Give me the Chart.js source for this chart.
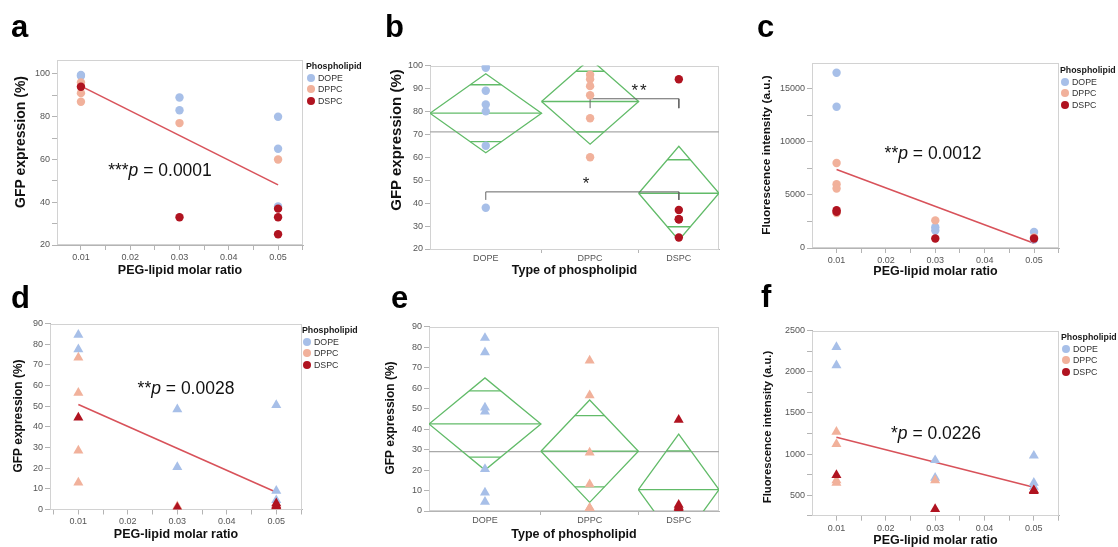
<!DOCTYPE html>
<html>
<head>
<meta charset="utf-8">
<script src="https://cdn.jsdelivr.net/npm/chart.js@4.4.0/dist/chart.umd.min.js"></script>
<style>
html, body { margin: 0; padding: 0; background: #fff; width: 1118px; height: 547px; overflow: hidden; position: relative; font-family: 'Liberation Sans', Arial, sans-serif; }
canvas { position: absolute; }
.lbl { position: absolute; font-weight: bold; font-size: 31px; line-height: 31px; color: #000; }
.pv { position: absolute; font-size: 17.5px; color: #111; transform: translate(-50%, -50%); white-space: nowrap; }
.star { position: absolute; font-size: 17px; color: #222; transform: translate(-50%, -50%); letter-spacing: 2px; }
.yt { position: absolute; font-weight: bold; color: #111; white-space: nowrap; transform: translate(-50%, -50%) rotate(-90deg); }
.leg { position: absolute; font-family: 'Liberation Sans Narrow', 'Liberation Sans', sans-serif; font-size: 8.8px; color: #333; line-height: 11.6px; }
.leg .t { font-weight: bold; color: #1a1a1a; margin-left: -1px; }
.leg .dot { display: inline-block; width: 8px; height: 8px; border-radius: 50%; margin-right: 3px; vertical-align: -1px; }
</style>
</head>
<body>
<canvas id="pa"></canvas><canvas id="pb"></canvas><canvas id="pc"></canvas>
<canvas id="pd"></canvas><canvas id="pe"></canvas><canvas id="pf"></canvas>

<div class="lbl" style="left:11px;top:11px">a</div>
<div class="lbl" style="left:385px;top:11px">b</div>
<div class="lbl" style="left:757px;top:11px">c</div>
<div class="lbl" style="left:11px;top:282px">d</div>
<div class="lbl" style="left:391px;top:282px">e</div>
<div class="lbl" style="left:761px;top:281px">f</div>

<div class="pv" style="left:160px;top:170px">***<i>p</i> = 0.0001</div>
<div class="pv" style="left:933px;top:153px">**<i>p</i> = 0.0012</div>
<div class="pv" style="left:186px;top:388px">**<i>p</i> = 0.0028</div>
<div class="pv" style="left:936px;top:433px">*<i>p</i> = 0.0226</div>
<div class="star" style="left:640px;top:91px">**</div>
<div class="star" style="left:587px;top:184px">*</div>

<div id="lega" class="leg" style="left:307px;top:61px"></div>
<div id="legc" class="leg" style="left:1061px;top:65px"></div>
<div id="legd" class="leg" style="left:303px;top:325px"></div>
<div id="legf" class="leg" style="left:1062px;top:332px"></div>

<script>
// ---- data ----
const lipids = ['DOPE', 'DPPC', 'DSPC'];
const lipidColors = ['#a7bfe8', '#f1b19b', '#b01320'];

const ratioTicks = [0.005, 0.01, 0.015, 0.02, 0.025, 0.03, 0.035, 0.04, 0.045, 0.05, 0.055];
const ratioLabels = ['', '0.01', '', '0.02', '', '0.03', '', '0.04', '', '0.05', ''];

// GFP expression (%), circles (panels a, b)
const gfpCircDOPE = [[0.01, 99.5], [0.01, 99], [0.03, 89], [0.03, 83], [0.05, 80], [0.05, 65], [0.05, 38]];
const gfpCircDPPC = [[0.01, 96], [0.01, 94], [0.01, 91], [0.01, 87], [0.03, 77], [0.05, 60]];
const gfpCircDSPC = [[0.01, 94], [0.03, 33], [0.05, 37], [0.05, 33], [0.05, 25]];
const gfpCircFit = [94.3, 48.1]; // fitted line at 0.01 and 0.05

// GFP expression (%), triangles (panels d, e)
const gfpTriDOPE = [[0.01, 84.5], [0.01, 77.5], [0.03, 48.5], [0.03, 20.5], [0.05, 50.5], [0.05, 9], [0.05, 4.5]];
const gfpTriDPPC = [[0.01, 73.5], [0.01, 56.5], [0.01, 28.5], [0.01, 13], [0.03, 1.5], [0.05, 1.5]];
const gfpTriDSPC = [[0.01, 44.5], [0.03, 1], [0.05, 3], [0.05, 2], [0.05, 1.5]];
const gfpTriFit = [50.8, 8.3];

// Fluorescence intensity (a.u.), circles (panel c)
const fluCircDOPE = [[0.01, 16500], [0.01, 13300], [0.03, 1950], [0.03, 1650], [0.05, 1500], [0.05, 800]];
const fluCircDPPC = [[0.01, 8000], [0.01, 6000], [0.01, 5600], [0.01, 3300], [0.03, 2600], [0.05, 1000]];
const fluCircDSPC = [[0.01, 3550], [0.01, 3400], [0.03, 900], [0.05, 900]];
const fluCircFit = [7400, 450];

// Fluorescence intensity (a.u.), triangles (panel f)
const fluTriDOPE = [[0.01, 2300], [0.01, 2080], [0.03, 925], [0.03, 710], [0.05, 980], [0.05, 650], [0.05, 600]];
const fluTriDPPC = [[0.01, 1270], [0.01, 1120], [0.01, 680], [0.01, 650], [0.03, 680], [0.05, 560]];
const fluTriDSPC = [[0.01, 745], [0.03, 330], [0.05, 560], [0.05, 550]];
const fluTriFit = [1205, 595];

// means diamonds (panels b, e): group mean, CI half height, overlap mark offset
const groupEdges = [0, 38.6, 72.2, 100];
const gfpCircMeans = [79.2, 84.3, 44.3];
const gfpCircCI = [17.2, 18.6, 20.5];
const gfpCircOverlap = [12.4, 13.2, 14.6];
const gfpCircGrand = 71.1;
const gfpTriMeans = [42.5, 29.2, 10.4];
const gfpTriCI = [22.5, 25, 27.1];
const gfpTriOverlap = [16.2, 17.4, 19];
const gfpTriGrand = 29;

// significance brackets in b: [from group, to group, bar level, end level]
const bracketHigh = [1, 2, 85.5, 81.4];
const bracketLow = [0, 2, 44.9, 41.4];

const gfpTicksA = [20, 30, 40, 50, 60, 70, 80, 90, 100];
const gfpLabelsA = ['20', '', '40', '', '60', '', '80', '', '100'];
const gfpTicksB = [20, 30, 40, 50, 60, 70, 80, 90, 100];
const gfpLabelsB = ['20', '30', '40', '50', '60', '70', '80', '90', '100'];
const gfpTicksD = [0, 10, 20, 30, 40, 50, 60, 70, 80, 90];
const gfpLabelsD = ['0', '10', '20', '30', '40', '50', '60', '70', '80', '90'];
const fluTicksC = [0, 2500, 5000, 7500, 10000, 12500, 15000];
const fluLabelsC = ['0', '', '5000', '', '10000', '', '15000'];
const fluTicksF = [250, 500, 750, 1000, 1250, 1500, 1750, 2000, 2250, 2500];
const fluLabelsF = ['', '500', '', '1000', '', '1500', '', '2000', '', '2500'];

// ---- helpers ----
const TICKFONT = "'Liberation Sans Narrow', 'Liberation Sans', sans-serif";
const AXIS = '#b4b4b4';
const TITLE_SIZE = 12.5;
const TITLE_LH = TITLE_SIZE * 1.2;

const framePlugin = {
    id: 'frame',
    beforeDatasetsDraw(chart) {
        const a = chart.chartArea, ctx = chart.ctx;
        ctx.save();
        ctx.strokeStyle = '#d2d2d2';
        ctx.lineWidth = 1;
        ctx.strokeRect(Math.round(a.left) + 0.5, Math.round(a.top) + 0.5,
            Math.round(a.right - a.left) - 1, Math.round(a.bottom - a.top) - 1);
        ctx.restore();
    }
};

function labelOf(ticks, labels, v) {
    const i = ticks.findIndex(t => Math.abs(t - v) < 1e-9);
    return i < 0 ? '' : labels[i];
}

function axis(min, max, ticks, labels, title, grouped) {
    return {
        type: 'linear', min: min, max: max,
        afterBuildTicks: function (s) {
            s.ticks = ticks.filter(v => v >= min - 1e-9 && v <= max + 1e-9).map(v => ({ value: v }));
        },
        ticks: {
            autoSkip: false, maxRotation: 0, padding: grouped ? 0 : 2, color: '#555',
            font: { size: 9, family: TICKFONT },
            callback: v => labelOf(ticks, labels, v)
        },
        grid: {
            drawOnChartArea: false, tickLength: grouped ? 4 : 5,
            tickColor: grouped ? (c => (c.tick && labelOf(ticks, labels, c.tick.value)) ? 'rgba(0,0,0,0)' : AXIS) : AXIS
        },
        border: { color: AXIS },
        title: {
            display: !!title, text: title || '', color: '#111',
            font: { size: TITLE_SIZE, weight: 'bold', family: 'Liberation Sans' }
        }
    };
}

function points(pts, color, style, order, xFixed) {
    return {
        type: 'scatter',
        data: pts.map(p => ({ x: xFixed === undefined ? p[0] : xFixed, y: p[1] })),
        backgroundColor: color, borderColor: color, borderWidth: 0,
        pointStyle: style, pointRadius: style === 'triangle' ? 5.8 : 4.2,
        order: order, clip: 0
    };
}

function line(pts, color, width, order) {
    return {
        type: 'line', data: pts.map(p => ({ x: p[0], y: p[1] })),
        borderColor: color, borderWidth: width, pointRadius: 0, fill: false,
        tension: 0, order: order, clip: 0
    };
}

function groupCenter(i) { return (groupEdges[i] + groupEdges[i + 1]) / 2; }

function diamonds(means, ci, ov) {
    const out = [];
    const green = '#62bb69';
    means.forEach((m, i) => {
        const x0 = groupEdges[i], x1 = groupEdges[i + 1], c = groupCenter(i);
        out.push(line([[x0, m], [c, m + ci[i]], [x1, m], [c, m - ci[i]], [x0, m]], green, 1.3, 5));
        out.push(line([[x0, m], [x1, m]], green, 1.3, 5));
        const hw = (x1 - x0) / 2 * (1 - ov[i] / ci[i]);
        out.push(line([[c - hw, m + ov[i]], [c + hw, m + ov[i]]], green, 1.3, 5));
        out.push(line([[c - hw, m - ov[i]], [c + hw, m - ov[i]]], green, 1.3, 5));
    });
    return out;
}

function bracket(b) {
    const xa = groupCenter(b[0]), xb = groupCenter(b[1]);
    return line([[xa, b[3]], [xa, b[2]], [xb, b[2]], [xb, b[3]]], '#666', 1, 4);
}

// y titles are placed as rotated text beside each canvas
function yTitle(text, x, y, size) {
    const d = document.createElement('div');
    d.className = 'yt';
    d.style.left = x + 'px';
    d.style.top = y + 'px';
    d.style.fontSize = size + 'px';
    d.textContent = text;
    document.body.appendChild(d);
}

function panel(id, box, area, xTitleY, xScale, yScale, datasets) {
    const cv = document.getElementById(id);
    cv.style.left = box.x + 'px';
    cv.style.top = box.y + 'px';
    cv.width = box.w;
    cv.height = box.h;
    const yW = area.l - box.x;
    const xH = box.y + box.h - area.b;
    xScale.title.padding = { top: 0, bottom: box.y + box.h - xTitleY - TITLE_LH / 2 };
    yScale.afterFit = s => { s.width = yW; };
    xScale.afterFit = s => { s.height = xH; };
    return new Chart(cv, {
        type: 'scatter',
        data: { datasets: datasets },
        options: {
            responsive: false, animation: false, events: [],
            layout: { padding: { left: 0, top: area.t - box.y, right: box.x + box.w - area.r, bottom: 0 } },
            plugins: { legend: { display: false }, tooltip: { enabled: false } },
            scales: { x: xScale, y: yScale }
        },
        plugins: [framePlugin]
    });
}

function ratioPanel(series, fit, style) {
    const sets = [];
    series.forEach((s, i) => sets.push(points(s, lipidColors[i], style, 3 - i)));
    sets.push(line([[0.01, fit[0]], [0.05, fit[1]]], '#d8525a', 1.6, 4));
    return sets;
}

function groupPanel(series, style, means, ci, ov, grand, extra) {
    const sets = [];
    series.forEach((s, i) => sets.push(points(s, lipidColors[i], style, 3 - i, groupCenter(i))));
    diamonds(means, ci, ov).forEach(d => sets.push(d));
    sets.push(line([[0, grand], [100, grand]], '#a9a9a9', 1.2, 6));
    (extra || []).forEach(d => sets.push(d));
    return sets;
}

const groupTicks = [groupCenter(0), groupEdges[1], groupCenter(1), groupEdges[2], groupCenter(2)];
const groupLabels = ['DOPE', '', 'DPPC', '', 'DSPC'];

// ---- panels ----
panel('pa', { x: 0, y: 40, w: 372, h: 245 }, { l: 57, t: 60, r: 303, b: 245 }, 271,
    axis(0.00514, 0.05506, ratioTicks, ratioLabels, 'PEG-lipid molar ratio'),
    axis(20, 106.5, gfpTicksA, gfpLabelsA),
    ratioPanel([gfpCircDOPE, gfpCircDPPC, gfpCircDSPC], gfpCircFit, 'circle'));
yTitle('GFP expression (%)', 20, 142, 14);

panel('pb', { x: 372, y: 40, w: 372, h: 245 }, { l: 430, t: 65.5, r: 719, b: 249 }, 271,
    axis(0, 100, groupTicks, groupLabels, 'Type of phospholipid', true),
    axis(20, 100, gfpTicksB, gfpLabelsB),
    groupPanel([gfpCircDOPE, gfpCircDPPC, gfpCircDSPC], 'circle', gfpCircMeans, gfpCircCI, gfpCircOverlap, gfpCircGrand,
        [bracket(bracketHigh), bracket(bracketLow)]));
yTitle('GFP expression (%)', 395, 140, 15);

panel('pc', { x: 744, y: 40, w: 374, h: 245 }, { l: 812, t: 63, r: 1059, b: 248 }, 272,
    axis(0.00502, 0.05506, ratioTicks, ratioLabels, 'PEG-lipid molar ratio'),
    axis(0, 17420, fluTicksC, fluLabelsC),
    ratioPanel([fluCircDOPE, fluCircDPPC, fluCircDSPC], fluCircFit, 'circle'));
yTitle('Fluorescence intensity (a.u.)', 766, 155, 11.8);

panel('pd', { x: 0, y: 310, w: 372, h: 250 }, { l: 50, t: 323.5, r: 302, b: 509.5 }, 535,
    axis(0.00427, 0.0552, ratioTicks, ratioLabels, 'PEG-lipid molar ratio'),
    axis(0, 90, gfpTicksD, gfpLabelsD),
    ratioPanel([gfpTriDOPE, gfpTriDPPC, gfpTriDSPC], gfpTriFit, 'triangle'));
yTitle('GFP expression (%)', 17.5, 416, 12);

panel('pe', { x: 372, y: 310, w: 372, h: 250 }, { l: 429, t: 326.7, r: 719, b: 511 }, 535,
    axis(0, 100, groupTicks, groupLabels, 'Type of phospholipid', true),
    axis(0, 90, gfpTicksD, gfpLabelsD),
    groupPanel([gfpTriDOPE, gfpTriDPPC, gfpTriDSPC], 'triangle', gfpTriMeans, gfpTriCI, gfpTriOverlap, gfpTriGrand));
yTitle('GFP expression (%)', 390, 418, 12);

panel('pf', { x: 744, y: 310, w: 374, h: 250 }, { l: 812, t: 330.7, r: 1059, b: 515.7 }, 541,
    axis(0.00505, 0.0551, ratioTicks, ratioLabels, 'PEG-lipid molar ratio'),
    axis(250, 2500, fluTicksF, fluLabelsF),
    ratioPanel([fluTriDOPE, fluTriDPPC, fluTriDSPC], fluTriFit, 'triangle'));
yTitle('Fluorescence intensity (a.u.)', 767, 427, 11.3);

// ---- legends ----
['lega', 'legc', 'legd', 'legf'].forEach(function (id) {
    let html = '<div class="t">Phospholipid</div>';
    lipids.forEach((name, i) => {
        html += '<div><span class="dot" style="background:' + lipidColors[i] + '"></span>' + name + '</div>';
    });
    document.getElementById(id).innerHTML = html;
});
</script>
</body>
</html>
